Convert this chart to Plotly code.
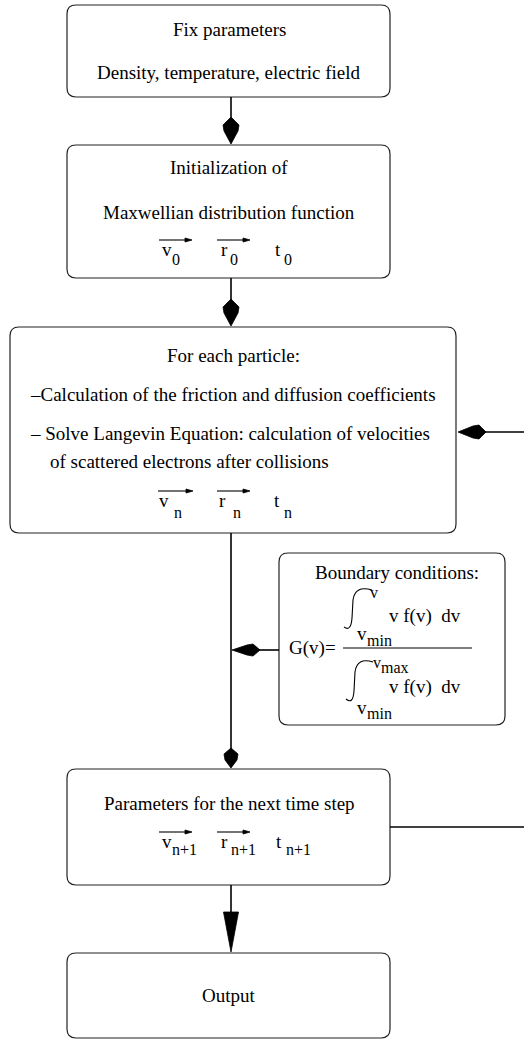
import plotly.graph_objects as go

# ---------------- data (text content) ----------------
box_names = ["fix", "init", "particle", "boundary", "next", "output"]
fix_lines = ["Fix parameters", "Density, temperature, electric field"]
init_lines = ["Initialization of", "Maxwellian distribution function"]
particle_lines = ["For each particle:",
                  "\u2013Calculation of the friction and diffusion coefficients",
                  "\u2013 Solve Langevin Equation: calculation of velocities",
                  "of scattered electrons after collisions"]
boundary_title = ["Boundary conditions:"]
next_lines = ["Parameters for the next time step"]
output_lines = ["Output"]
vector_symbols = ["v", "r", "t"]
vector_has_arrow = [True, True, False]
subscripts_init = ["0", "0", "0"]
subscripts_particle = ["n", "n", "n"]
subscripts_next = ["n+1", "n+1", "n+1"]
formula_lhs = "G(v)="
integrand = "v f(v)  dv"
limit_var = "v"
limit_min = "min"
limit_max = "max"

# ---------------- layout (positions, sizes, styles) ----------------
W, H = 524, 1039
FONT = "Liberation Serif"
FS = 19
SUB = 16
BOX_COL = "#222222"
LINE_COL = "#000000"

boxes = {
    "fix": (67, 390, 5, 97),
    "init": (67, 390, 145, 278),
    "particle": (10, 456, 327, 533),
    "boundary": (279, 505, 553, 725),
    "next": (67, 390, 769, 885),
    "output": (67, 390, 953, 1038),
}
XC = 231  # main vertical axis

shapes = []
annotations = []


def rrect(x0, x1, y0, y1, r=9):
    p = (f"M {x0+r},{y0} L {x1-r},{y0} Q {x1},{y0} {x1},{y0+r} "
         f"L {x1},{y1-r} Q {x1},{y1} {x1-r},{y1} L {x0+r},{y1} "
         f"Q {x0},{y1} {x0},{y1-r} L {x0},{y0+r} Q {x0},{y0} {x0+r},{y0} Z")
    shapes.append(dict(type="path", path=p, xref="x", yref="y",
                       line=dict(color=BOX_COL, width=1.2), fillcolor="rgba(0,0,0,0)"))


def line(x0, y0, x1, y1, w=1.6):
    shapes.append(dict(type="line", x0=x0, y0=y0, x1=x1, y1=y1, xref="x", yref="y",
                       line=dict(color=LINE_COL, width=w)))


def poly(pts):
    p = "M " + " L ".join(f"{x},{y}" for x, y in pts) + " Z"
    shapes.append(dict(type="path", path=p, xref="x", yref="y",
                       line=dict(color=LINE_COL, width=0.8), fillcolor=LINE_COL))


def text(s, x, y, size=FS, xanchor="center"):
    annotations.append(dict(text=s, x=x, y=y, xref="x", yref="y", showarrow=False,
                            xanchor=xanchor, yanchor="middle",
                            font=dict(family=FONT, size=size, color="black")))


def vdiamond(x, top, tip, hw=8, wide=8):
    poly([(x, top), (x + hw, top + wide), (x + hw - 1, top + wide + 6), (x, tip),
          (x - hw + 1, top + wide + 6), (x - hw, top + wide)])


def hdiamond(back, tip, y, hw=7, wide=7):
    poly([(back, y), (back - wide, y - hw), (back - wide - 6, y - hw + 1), (tip, y),
          (back - wide - 6, y + hw - 1), (back - wide, y + hw)])


def vec_arrow(x0, x1, y):
    line(x0, y, x1 - 5, y, w=1.1)
    poly([(x1 - 7, y - 2), (x1, y), (x1 - 7, y + 2)])


def vector_row(subs, y_sym, y_sub, y_arr, sym_x, sub_x, arr_x):
    for i, s in enumerate(vector_symbols):
        text(s, sym_x[i], y_sym)
        text(subs[i], sub_x[i], y_sub, size=SUB)
        if vector_has_arrow[i]:
            vec_arrow(arr_x[i][0], arr_x[i][1], y_arr)


# boxes
for name in box_names:
    rrect(*boxes[name])

# box 1 text
for s, y in zip(fix_lines, [29, 72]):
    text(s, 229, y)
# box 2 text
for s, y in zip(init_lines, [167, 212]):
    text(s, 229, y)
vector_row(subscripts_init, 249, 259, 240, [167, 224, 278], [176, 234, 288],
           [(159, 192), (217, 250)])

# box 3 text
text(particle_lines[0], 233, 355)
text(particle_lines[1], 28, 394, xanchor="left")
text(particle_lines[2], 28, 433, xanchor="left")
text(particle_lines[3], 48, 461, xanchor="left")
vector_row(subscripts_particle, 500, 512, 491, [164, 222, 277], [178, 237, 288],
           [(158, 193), (217, 250)])

# box 4: boundary conditions
text(boundary_title[0], 397, 572)
text(formula_lhs, 312, 648)
line(343, 648, 472, 648, w=1.1)
# upper integral
shapes.append(dict(type="path", path="M 372,590 Q 355,585 353,600 L 352,618 Q 351,632 344,627",
                   xref="x", yref="y", line=dict(color=LINE_COL, width=1.1)))
text(limit_var, 374, 592, size=SUB)
text(integrand, 425, 616)
text(limit_var, 362, 633, size=FS)
text(limit_min, 379, 640, size=SUB)
# lower integral
shapes.append(dict(type="path", path="M 373,662 Q 357,657 355,672 L 354,691 Q 353,705 346,699",
                   xref="x", yref="y", line=dict(color=LINE_COL, width=1.1)))
text(limit_var, 377, 662, size=SUB)
text(limit_max, 395, 667, size=SUB)
text(integrand, 425, 687)
text(limit_var, 362, 707, size=FS)
text(limit_min, 379, 713, size=SUB)

# box 5 text
text(next_lines[0], 229, 803)
vector_row(subscripts_next, 841, 849, 832, [167, 224, 279], [184, 243, 298],
           [(159, 192), (217, 250)])
# box 6 text
text(output_lines[0], 229, 995)

# connectors
line(XC, 97, XC, 120)
vdiamond(XC, 117, 144)
line(XC, 278, XC, 302)
vdiamond(XC, 299, 326)
line(XC, 533, XC, 750)
vdiamond(XC, 748, 768, hw=7, wide=6)
# boundary -> main line
line(279, 650, 258, 650)
hdiamond(260, 232, 650, hw=6, wide=7)
# feedback loop into particle box
line(524, 432, 484, 432)
hdiamond(486, 458, 432, hw=7, wide=7)
# next -> right edge
line(390, 827, 524, 827)
# next -> output with triangle
line(XC, 885, XC, 915)
poly([(XC - 7.5, 912), (XC + 7.5, 912), (XC, 952)])

fig = go.Figure()
fig.update_layout(
    width=W, height=H,
    margin=dict(l=0, r=0, t=0, b=0),
    paper_bgcolor="white", plot_bgcolor="white",
    xaxis=dict(range=[0, W], visible=False, fixedrange=True),
    yaxis=dict(range=[H, 0], visible=False, fixedrange=True),
    shapes=shapes, annotations=annotations, showlegend=False,
)
fig.write_html("out.html",
               post_script="document.body.style.margin='0';document.body.style.overflow='hidden';",
               config={"displayModeBar": False})
